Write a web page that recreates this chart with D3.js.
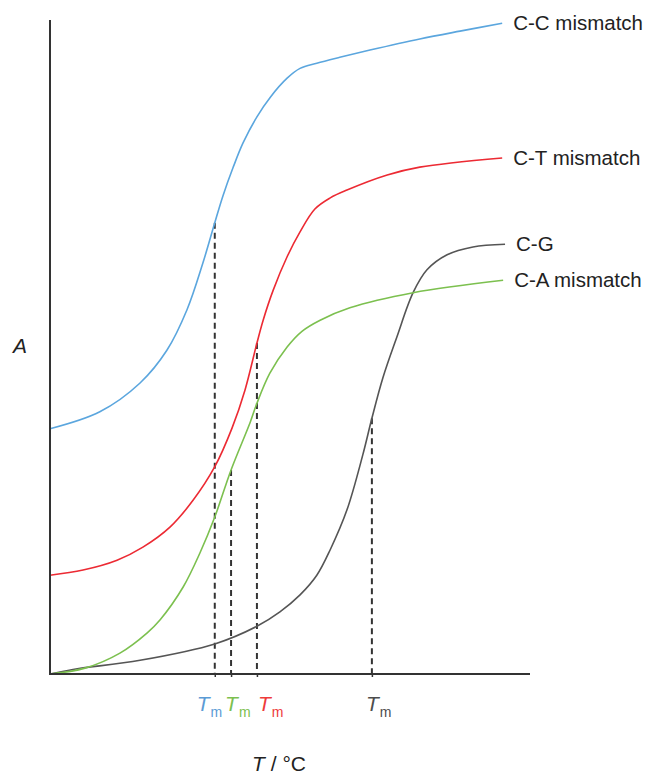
<!DOCTYPE html>
<html>
<head>
<meta charset="utf-8">
<script src="https://cdn.jsdelivr.net/npm/d3@7/dist/d3.min.js"></script>
<style>
  body { margin: 0; background: #fff; }
  text { font-family: "Liberation Sans", Arial, sans-serif; fill: #222; }
</style>
</head>
<body>
<div id="chart"></div>
<script>
// melting curves, arbitrary units (T 0-100, A 0-100)
var seriesNames = ["C-C mismatch", "C-T mismatch", "C-G", "C-A mismatch"];
var seriesColors = ["#5ba6de", "#ec2a33", "#555555", "#7cc04f"];
var labelColors = ["#5b9bd5", "#7cc04f", "#ee3b3b", "#4d4d4d"];

var ccT = [0, 10.4, 18.8, 24.4, 28.6, 31.9, 34.4, 36.1, 38.2, 40.3, 43.2, 46.0, 49.5, 52.2, 55.7, 60.5, 66.8, 77.2, 85.6, 94.4];
var ccA = [37.5, 40.1, 44.5, 49.5, 55.7, 62.8, 69.0, 73.1, 77.4, 81.2, 85.2, 88.2, 91.1, 92.6, 93.4, 94.3, 95.4, 97.1, 98.3, 99.5];

var ctT = [0, 6.9, 14.0, 19.4, 25.1, 29.9, 34.4, 38.0, 40.7, 43.2, 44.5, 46.6, 49.5, 52.2, 55.3, 58.5, 62.0, 70.4, 77.2, 94.4];
var ctA = [15.1, 15.9, 17.4, 19.4, 22.5, 26.6, 31.7, 37.6, 43.4, 50.6, 54.1, 58.7, 63.8, 67.6, 71.1, 72.8, 74.0, 76.3, 77.5, 78.9];

var cgT = [0, 4.8, 18.8, 34.4, 43.2, 48.0, 52.2, 55.7, 58.5, 62.0, 65.3, 67.2, 69.5, 72.4, 75.8, 78.7, 82.9, 88.3, 95.0];
var cgA = [0, 0.7, 2.1, 4.6, 7.3, 9.5, 12.1, 15.1, 19.0, 25.1, 33.5, 39.1, 45.3, 51.5, 58.3, 61.8, 64.1, 65.3, 65.7];

var caT = [0, 7.3, 14.6, 20.3, 23.0, 27.8, 31.3, 34.4, 37.8, 41.8, 43.2, 45.9, 49.5, 52.6, 56.4, 62.6, 75.8, 94.6];
var caA = [0, 0.9, 3.2, 6.3, 8.3, 13.3, 18.5, 24.0, 31.2, 38.5, 41.4, 46.0, 50.0, 52.4, 54.1, 56.0, 58.3, 60.2];

// melting temperatures (C-C, C-A, C-T, C-G) and A at Tm
var tmT = [34.4, 37.8, 43.2, 67.2];
var tmA = [69.0, 31.2, 50.6, 39.1];

var width = 651, height = 777;
var margin = {top: 20, right: 122, bottom: 103, left: 50};

var x = d3.scaleLinear().domain([0, 100]).range([margin.left, width - margin.right]);
var y = d3.scaleLinear().domain([0, 100]).range([height - margin.bottom, margin.top]);

var svg = d3.select("#chart").append("svg")
    .attr("width", width)
    .attr("height", height);

var series = [
  {name: seriesNames[0], color: seriesColors[0], pts: d3.zip(ccT, ccA)},
  {name: seriesNames[1], color: seriesColors[1], pts: d3.zip(ctT, ctA)},
  {name: seriesNames[2], color: seriesColors[2], pts: d3.zip(cgT, cgA)},
  {name: seriesNames[3], color: seriesColors[3], pts: d3.zip(caT, caA)}
];

var line = d3.line()
    .x(function(d) { return x(d[0]); })
    .y(function(d) { return y(d[1]); })
    .curve(d3.curveCatmullRom.alpha(0.5));

// dashed Tm drop lines
svg.selectAll(".drop")
    .data(tmT)
  .enter().append("line")
    .attr("class", "drop")
    .attr("x1", function(d) { return x(d); })
    .attr("x2", function(d) { return x(d); })
    .attr("y1", function(d, i) { return y(tmA[i]); })
    .attr("y2", y(0))
    .attr("stroke", "#333")
    .attr("stroke-width", 2)
    .attr("stroke-dasharray", "6,4");

svg.selectAll(".curve")
    .data(series)
  .enter().append("path")
    .attr("class", "curve")
    .attr("d", function(d) { return line(d.pts); })
    .attr("fill", "none")
    .attr("stroke", function(d) { return d.color; })
    .attr("stroke-width", 1.6);

// labels at the end of each curve
svg.selectAll(".slabel")
    .data(series)
  .enter().append("text")
    .attr("class", "slabel")
    .attr("x", function(d) { return x(d.pts[d.pts.length - 1][0]) + 11; })
    .attr("y", function(d) { return y(d.pts[d.pts.length - 1][1]); })
    .attr("dy", ".35em")
    .style("font-size", "20.5px")
    .text(function(d) { return d.name; });

// axes
var xAxis = svg.append("g")
    .attr("transform", "translate(0," + y(0) + ")")
    .call(d3.axisBottom(x).tickValues(tmT).tickSize(3).tickFormat(""));
xAxis.select(".domain").attr("d", "M" + x(0) + ",0H" + (x(100) + 1))
    .attr("stroke", "#333").attr("stroke-width", 2);
xAxis.selectAll(".tick line").attr("stroke", "#333").attr("stroke-width", 1.5);

svg.append("line")
    .attr("x1", x(0)).attr("x2", x(0))
    .attr("y1", y(100)).attr("y2", y(0) + 1)
    .attr("stroke", "#333")
    .attr("stroke-width", 2);

// Tm labels under the axis, nudged apart so they don't collide
var nudge = [-12, 0, 7, 0];
var tm = svg.selectAll(".tm")
    .data(tmT)
  .enter().append("text")
    .attr("class", "tm")
    .attr("x", function(d, i) { return x(d) + nudge[i] - 6; })
    .attr("y", y(0) + 37)
    .style("font-size", "21px")
    .style("fill", function(d, i) { return labelColors[i]; });
tm.append("tspan").style("font-style", "italic").style("fill", function(d, i) { return labelColors[i]; }).text("T");
tm.append("tspan").attr("dy", 6).attr("dx", 1).style("font-size", "14px").style("fill", function(d, i) { return labelColors[i]; }).text("m");

// axis titles
svg.append("text")
    .attr("x", 13)
    .attr("y", 353)
    .style("font-size", "21px")
    .style("font-style", "italic")
    .text("A");

var xt = svg.append("text")
    .attr("x", 279)
    .attr("y", 771)
    .attr("text-anchor", "middle")
    .style("font-size", "21px");
xt.append("tspan").style("font-style", "italic").text("T");
xt.append("tspan").text(" / °C");
</script>
</body>
</html>
